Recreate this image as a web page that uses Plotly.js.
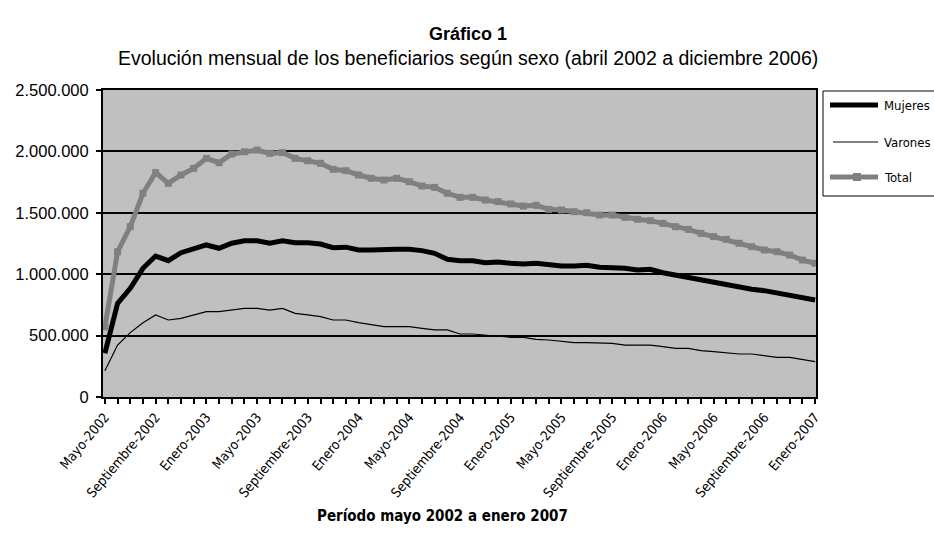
<!DOCTYPE html>
<html><head><meta charset="utf-8">
<script src="https://cdn.plot.ly/plotly-3.0.1.min.js"></script>
<style>body{margin:0;background:#fff}#chart{width:934px;height:545px}</style>
</head><body><div id="chart"></div>
<script>
const months = [
"Mayo-2002","Junio-2002","Julio-2002","Agosto-2002","Septiembre-2002","Octubre-2002","Noviembre-2002","Diciembre-2002",
"Enero-2003","Febrero-2003","Marzo-2003","Abril-2003","Mayo-2003","Junio-2003","Julio-2003","Agosto-2003","Septiembre-2003","Octubre-2003","Noviembre-2003","Diciembre-2003",
"Enero-2004","Febrero-2004","Marzo-2004","Abril-2004","Mayo-2004","Junio-2004","Julio-2004","Agosto-2004","Septiembre-2004","Octubre-2004","Noviembre-2004","Diciembre-2004",
"Enero-2005","Febrero-2005","Marzo-2005","Abril-2005","Mayo-2005","Junio-2005","Julio-2005","Agosto-2005","Septiembre-2005","Octubre-2005","Noviembre-2005","Diciembre-2005",
"Enero-2006","Febrero-2006","Marzo-2006","Abril-2006","Mayo-2006","Junio-2006","Julio-2006","Agosto-2006","Septiembre-2006","Octubre-2006","Noviembre-2006","Diciembre-2006",
"Enero-2007"];

const tickLabels = ["Mayo-2002","Septiembre-2002","Enero-2003","Mayo-2003","Septiembre-2003","Enero-2004","Mayo-2004","Septiembre-2004","Enero-2005","Mayo-2005","Septiembre-2005","Enero-2006","Mayo-2006","Septiembre-2006","Enero-2007"];

const seriesNames = ["Mujeres","Varones","Total"];

const mujeres = [356000,763000,885000,1048000,1148000,1110000,1175000,1211000,1238000,1211000,1252000,1273000,1273000,1252000,1273000,1257000,1257000,1246000,1216000,
1220000,1197000,1197000,1203000,1203000,1203000,1192000,1170000,1121000,1110000,1110000,1094000,1099000,1089000,1083000,1089000,1075000,1067000,1067000,
1072000,1056000,1056000,1048000,1034000,1040000,1012000,993000,975000,953000,931000,920000,898000,877000,866000,849000,831000,812000,790000];

const varones = [214000,423000,524000,605000,668000,627000,641000,668000,695000,695000,708000,722000,722000,708000,722000,681000,668000,654000,627000,
627000,605000,586000,573000,573000,573000,559000,546000,546000,513000,513000,505000,497000,486000,486000,470000,464000,450000,442000,
442000,437000,437000,423000,423000,423000,410000,396000,396000,377000,369000,361000,350000,350000,334000,323000,323000,307000,288000];

const total = [572000,1183000,1387000,1659000,1827000,1740000,1808000,1862000,1943000,1908000,1979000,1997000,2011000,1984000,1990000,1943000,1924000,1903000,1854000,
1843000,1808000,1781000,1767000,1781000,1753000,1718000,1707000,1659000,1626000,1626000,1604000,1591000,1572000,1555000,1561000,1528000,1523000,1509000,
1501000,1482000,1482000,1463000,1447000,1436000,1414000,1387000,1365000,1333000,1306000,1284000,1252000,1224000,1197000,1183000,1156000,1115000,1089000];

const narrow = "Liberation Sans Narrow, Arial Narrow, DejaVu Sans Condensed, sans-serif";
const regular = "Liberation Sans, Arial, sans-serif";

const W = 934, H = 545;
const M = {l: 103, r: 118, t: 90, b: 148};
const PW = W - M.l - M.r, PH = H - M.t - M.b;
// pixel -> paper helpers (for legend / titles only)
const px = v => (v - M.l) / PW;
const py = v => (H - M.b - v) / PH;

const styles = [
  {color: "#000000", width: 5},
  {color: "#000000", width: 1.2},
  {color: "#808080", width: 5}
];

const traces = [
  {x: months, y: mujeres, name: seriesNames[0], type: "scatter", mode: "lines", line: styles[0]},
  {x: months, y: varones, name: seriesNames[1], type: "scatter", mode: "lines", line: styles[1]},
  {x: months, y: total, name: seriesNames[2], type: "scatter", mode: "lines+markers", line: styles[2],
   marker: {symbol: "square", size: 7, color: "#808080"}}
];

// manual legend
const legendRows = [105, 142, 177];
const shapes = [
  {type: "rect", xref: "paper", yref: "paper", x0: px(823), x1: px(950), y0: py(91), y1: py(196),
   line: {color: "#000", width: 1}, fillcolor: "#fff", layer: "above"}
];
const annotations = [];
seriesNames.forEach((n, i) => {
  const y = py(legendRows[i]);
  shapes.push({type: "line", xref: "paper", yref: "paper",
    x0: px(i === 1 ? 833 : 830), x1: px(878), y0: y, y1: y,
    line: {color: styles[i].color, width: styles[i].width}});
  annotations.push({text: n, xref: "paper", yref: "paper", x: px(882), y: y,
    xanchor: "left", yanchor: "middle", showarrow: false,
    font: {family: narrow, size: 13, color: "#000"}});
});
shapes.push({type: "rect", xref: "paper", yref: "paper", x0: px(853), x1: px(861), y0: py(173), y1: py(181),
  line: {width: 0}, fillcolor: "#808080"});

annotations.push(
  {text: "<b>Gráfico 1</b>", xref: "paper", yref: "paper", x: px(468), y: py(34),
   xanchor: "center", yanchor: "middle", showarrow: false,
   font: {family: regular, size: 18, color: "#000"}},
  {text: "Evolución mensual de los beneficiarios según sexo (abril 2002 a diciembre 2006)",
   xref: "paper", yref: "paper", x: px(468), y: py(58),
   xanchor: "center", yanchor: "middle", showarrow: false,
   font: {family: regular, size: 19.5, color: "#000"}},
  {text: "<b>Período mayo 2002 a enero 2007</b>", xref: "paper", yref: "paper", x: px(442), y: py(516),
   xanchor: "center", yanchor: "middle", showarrow: false,
   font: {family: narrow, size: 15, color: "#000"}}
);

const layout = {
  width: W, height: H,
  separators: ",.",
  paper_bgcolor: "#ffffff",
  plot_bgcolor: "#c0c0c0",
  margin: M,
  showlegend: false,
  xaxis: {
    type: "category",
    range: [-0.15, 56.07],
    tickmode: "array",
    tickvals: months,
    ticktext: months.map(m => tickLabels.includes(m) ? m : ""),
    tickangle: -50,
    ticks: "outside", ticklen: 5, tickwidth: 1.5, tickcolor: "#000",
    showgrid: false, zeroline: false,
    showline: true, linecolor: "#000", linewidth: 2, mirror: true,
    tickfont: {family: narrow, size: 13.5, color: "#000"},
    automargin: false
  },
  yaxis: {
    range: [0, 2500000],
    dtick: 500000,
    tickformat: ",d",
    ticks: "outside", ticklen: 5, tickwidth: 1.5, tickcolor: "#000",
    ticklabelstandoff: 4,
    showgrid: true, gridcolor: "#000", gridwidth: 1.5,
    zeroline: false,
    showline: true, linecolor: "#000", linewidth: 2, mirror: true,
    tickfont: {family: regular, size: 16.5, color: "#000"},
    automargin: false
  },
  shapes: shapes,
  annotations: annotations
};

Plotly.newPlot("chart", traces, layout, {displayModeBar: false});
</script>
</body></html>
